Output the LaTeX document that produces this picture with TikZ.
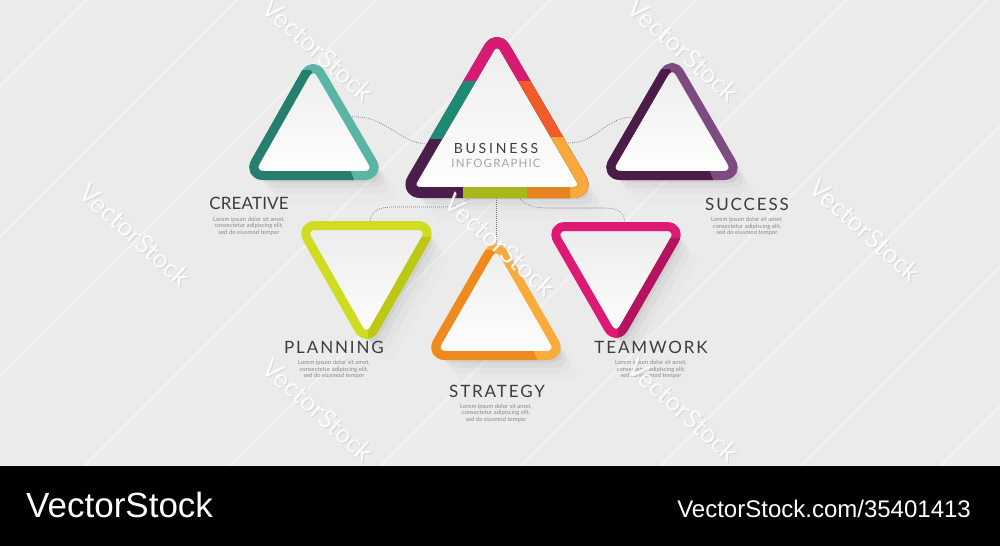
\documentclass[tikz,border=0pt]{standalone}
\usepackage{fontspec}
\setmainfont{Lato}
\newfontfamily\lsans{Liberation Sans}
\newfontfamily\bizfont[LetterSpace=20]{Lato}
\newfontfamily\infofont[LetterSpace=10]{Lato}
\newfontfamily\labfont[LetterSpace=11]{Lato}
\newfontfamily\labfontn[LetterSpace=1]{Lato}
\definecolor{bg}{RGB}{235,235,235}
\definecolor{innertop}{RGB}{236,236,236}
\definecolor{crdark}{HTML}{267F6E}
\definecolor{crlight}{HTML}{5BB5A7}
\definecolor{sudark}{HTML}{4A1C47}
\definecolor{sulight}{HTML}{7E4B80}
\definecolor{stdark}{HTML}{EF8A1E}
\definecolor{stlight}{HTML}{F9AC3C}
\definecolor{plbase}{HTML}{D0DC22}
\definecolor{pldark}{HTML}{BCC814}
\definecolor{twbase}{HTML}{DC1A74}
\definecolor{twdark}{HTML}{B3145D}
\definecolor{bzmag}{HTML}{D81B72}
\definecolor{bzteal}{HTML}{1F8A73}
\definecolor{bzred}{HTML}{F15A29}
\definecolor{bzpurple}{HTML}{4B1D4B}
\definecolor{bzolive}{HTML}{A8B81B}
\definecolor{bzdor}{HTML}{E5831F}
\definecolor{bzlor}{HTML}{F9A93B}
\definecolor{labtext}{HTML}{3D3D3D}
\definecolor{loremtext}{HTML}{8A8A8A}
\newcommand\trishadow[1]{%
  \foreach \o/\op in {3/0.06,7/0.045,12/0.03,18/0.02,26/0.012}{%
    \fill[black, opacity=\op, rounded corners=16pt]
      ([shift={(\o*0.8,\o)}]#1A) -- ([shift={(\o*0.8,\o)}]#1R) -- ([shift={(\o*0.8,\o)}]#1L) -- cycle;}}
\newcommand\tribody[3]{%
  \shade[top color=innertop, bottom color=white, rounded corners=16pt] (#1A) -- (#1R) -- (#1L) -- cycle;
  \draw[draw=#2, line width=#3, rounded corners=16pt, line join=round] (#1A) -- (#1R) -- (#1L) -- cycle;}
\newcommand\ringclip[4]{%
  \begin{scope}\clip #4;
  \draw[draw=#2, line width=#3, rounded corners=16pt, line join=round] (#1A) -- (#1R) -- (#1L) -- cycle;
  \end{scope}}
\begin{document}
\begin{tikzpicture}[x=1pt,y=-1pt,
  lab/.style={anchor=base, inner sep=0pt, text=labtext, font=\labfont\fontsize{17}{17}\selectfont},
  lorem/.style={anchor=north, inner sep=0pt, align=center, text=loremtext, font=\fontsize{5.9}{6.5}\selectfont},
  conn/.style={draw=black!55, line width=0.6pt, dash pattern=on 0.8pt off 1.2pt},
  wm/.style={inner sep=0pt, font=\fontsize{26}{26}\selectfont, rotate=-42},
  bgline/.style={draw=white, line width=0.8pt, opacity=0.6}]
\useasboundingbox (0,0) rectangle (1000,546);
\fill[bg] (0,0) rectangle (1000,466);
% background diagonal lines
\begin{scope}
\clip (0,0) rectangle (1000,466);
\foreach \c in {-380,-230,-90,84,230,380,520,660,800,940}{
  \draw[bgline] (\c,466) -- (\c+466,0);
  \draw[draw=black!4, line width=0.5pt] (\c+2,466) -- (\c+468,0);}
\end{scope}
% triangle vertices (centre line of the rings)
\coordinate (crA) at (313,60.3);   \coordinate (crL) at (247.7,175.5); \coordinate (crR) at (380.3,175.5);
\coordinate (bzA) at (497,34.3);   \coordinate (bzL) at (404.7,192.5); \coordinate (bzR) at (589.3,192.5);
\coordinate (suA) at (672,59.3);   \coordinate (suL) at (604.7,175.5); \coordinate (suR) at (739.3,175.5);
\coordinate (stA) at (496,240.3);  \coordinate (stL) at (429.7,355.5); \coordinate (stR) at (562.3,355.5);
\coordinate (plA) at (366.5,342.7);\coordinate (plL) at (299.7,225.5); \coordinate (plR) at (433.3,225.5);
\coordinate (twA) at (616,341.7);  \coordinate (twL) at (549.7,226.5); \coordinate (twR) at (682.3,226.5);
% shadows
\trishadow{cr}\trishadow{bz}\trishadow{su}\trishadow{st}\trishadow{pl}\trishadow{tw}
% connectors
\coordinate (c1a) at (352,117); \coordinate (c1b) at (427,144);
\coordinate (c2a) at (568,143); \coordinate (c2b) at (634,117);
\coordinate (c3a) at (496,198); \coordinate (c3b) at (496,245);
\coordinate (c4a) at (468,199); \coordinate (c4b) at (370,221);
\coordinate (c5a) at (520,199); \coordinate (c5b) at (625,222);
\draw[conn] (c1a) .. controls (386,115) and (398,143) .. (c1b);
\draw[conn] (c2a) .. controls (598,143) and (604,117) .. (c2b);
\draw[conn] (c3a) -- (c3b);
\draw[conn] (c4a) .. controls (460,206) and (452,207) .. (440,207) -- (392,207) .. controls (378,207) and (371,212) .. (c4b);
\draw[conn] (c5a) .. controls (527,206) and (535,208) .. (548,208) -- (605,208) .. controls (618,208) and (624,213) .. (c5b);
% creative
\tribody{cr}{crlight}{9pt}
\ringclip{cr}{crdark}{9pt}{(225,70) -- (311,70) -- (362,200) -- (225,200) -- cycle}
% success
\tribody{su}{sulight}{9pt}
\ringclip{su}{sudark}{9pt}{(580,69) -- (670,69) -- (721,200) -- (580,200) -- cycle}
% strategy
\tribody{st}{stlight}{9pt}
\ringclip{st}{stdark}{9pt}{(410,250) -- (494,250) -- (545,380) -- (410,380) -- cycle}
% planning
\tribody{pl}{plbase}{9pt}
\ringclip{pl}{pldark}{9pt}{(368,237) -- (460,237) -- (460,365) -- (368,365) -- cycle}
% teamwork
\tribody{tw}{twbase}{9pt}
\ringclip{tw}{twdark}{9pt}{(618,238) -- (710,238) -- (710,365) -- (618,365) -- cycle}
% business
\tribody{bz}{bzpurple}{11pt}
\ringclip{bz}{bzmag}{11pt}{(0,0) rectangle (1000,81)}
\ringclip{bz}{bzteal}{11pt}{(0,81) rectangle (497,138)}
\ringclip{bz}{bzred}{11pt}{(497,81) rectangle (1000,137)}
\ringclip{bz}{bzlor}{11pt}{(497,137) rectangle (1000,250)}
\ringclip{bz}{bzolive}{11pt}{(463,184) rectangle (527,250)}
\ringclip{bz}{bzdor}{11pt}{(527,184) rectangle (570,250)}
% texts
\node[anchor=base, inner sep=0pt, text=labtext, font=\bizfont\fontsize{14}{14}\selectfont] (biz) at (496,153) {BUSINESS};
\node[anchor=base, inner sep=0pt, text=black!35, font=\infofont\fontsize{11.5}{11.5}\selectfont] (info) at (496,167) {INFOGRAPHIC};
\node[lab, font=\labfontn\fontsize{17}{17}\selectfont] (tcr) at (249,209) {CREATIVE};
\node[lorem] (lcr) at (249,216.5) {Lorem ipsum dolor sit amet,\\consectetur adipiscing elit,\\sed do eiusmod tempor};
\node[lab] (tsu) at (747,210) {SUCCESS};
\node[lorem] (lsu) at (747,217) {Lorem ipsum dolor sit amet,\\consectetur adipiscing elit,\\sed do eiusmod tempor};
\node[lab] (tpl) at (334,353) {PLANNING};
\node[lorem] (lpl) at (334,360) {Lorem ipsum dolor sit amet,\\consectetur adipiscing elit,\\sed do eiusmod tempor};
\node[lab] (tst) at (497,397) {STRATEGY};
\node[lorem] (lst) at (496,403.5) {Lorem ipsum dolor sit amet,\\consectetur adipiscing elit,\\sed do eiusmod tempor};
\node[lab] (ttw) at (651,353) {TEAMWORK};
\node[lorem] (ltw) at (651,360) {Lorem ipsum dolor sit amet,\\consectetur adipiscing elit,\\sed do eiusmod tempor};
% watermarks
\foreach \px/\py [count=\i] in {318/50,135/235,500/245,683/50,865/230,318/410,683/410}{
  \node[wm, text=black!28, opacity=0.4] (wms\i) at (\px+1,\py+1) {VectorStock};
  \node[wm, text=white, opacity=0.9] (wm\i) at (\px,\py) {VectorStock};}
% banner
\fill[black] (0,466) rectangle (1000,546);
\node[anchor=base west, inner sep=0pt, text=white, font=\lsans\fontsize{35}{35}\selectfont] (vs1) at (26,517) {VectorStock};
\node[anchor=base east, inner sep=0pt, text=white, font=\lsans\fontsize{24}{24}\selectfont] (vs2) at (971,517) {VectorStock.com/35401413};
\end{tikzpicture}
\end{document}
